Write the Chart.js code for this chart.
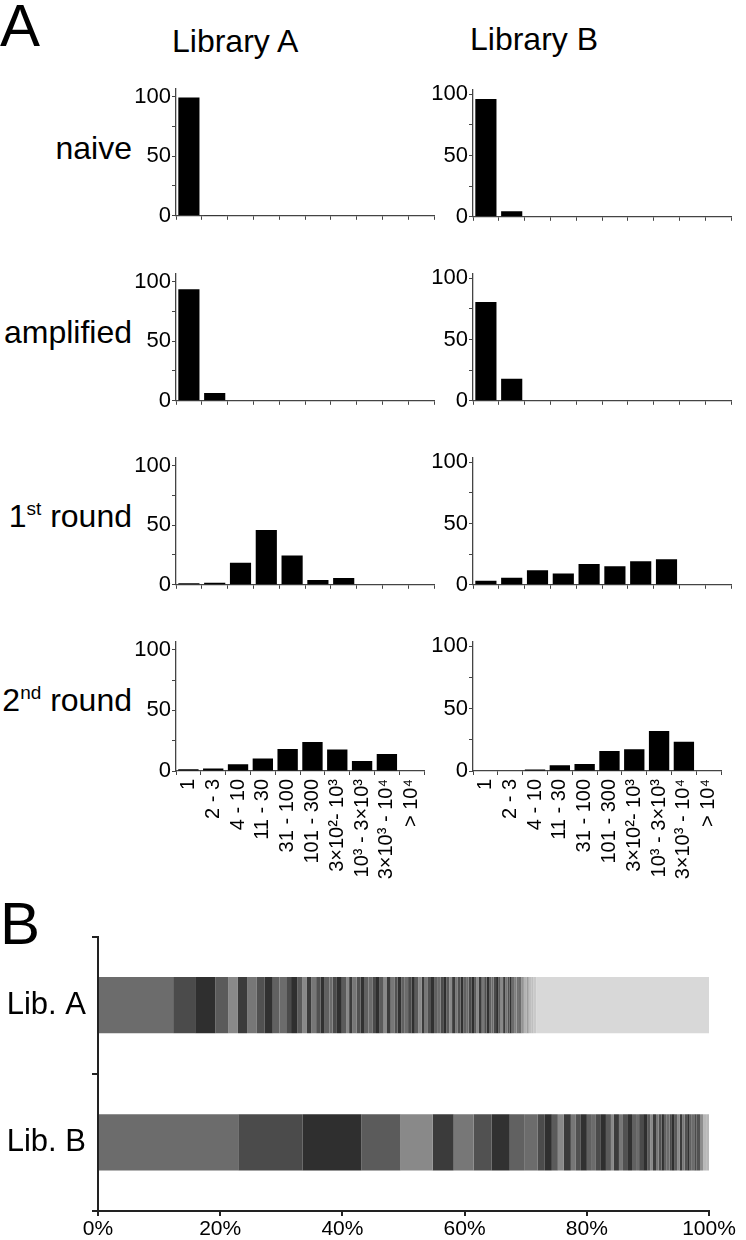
<!DOCTYPE html>
<html>
<head>
<meta charset="utf-8">
<script src="https://cdn.jsdelivr.net/npm/chart.js@4.4.0/dist/chart.umd.min.js"></script>
<style>
  body { margin: 0; background: #fff; width: 746px; height: 1240px; position: relative; overflow: hidden;
         font-family: "Liberation Sans", Arial, sans-serif; color: #000; }
  .lbl { position: absolute; white-space: nowrap; line-height: 1; }
  .row { right: 614px; text-align: right; font-size: 32px; }
  .row sup { font-size: 19px; vertical-align: 12px; line-height: 0; }
  canvas { position: absolute; }
</style>
</head>
<body>
<div class="lbl" style="left:0; top:-4px; font-size:60px;">A</div>
<div class="lbl" style="left:172px; top:25px; font-size:32px;">Library A</div>
<div class="lbl" style="left:470px; top:23px; font-size:32px;">Library B</div>
<div class="lbl row" style="top:132px;">naive</div>
<div class="lbl row" style="top:316px;">amplified</div>
<div class="lbl row" style="top:500px;">1<sup>st</sup> round</div>
<div class="lbl row" style="top:684px;">2<sup>nd</sup> round</div>
<div class="lbl" style="left:0; top:894px; font-size:60px;">B</div>

<canvas id="aNaive"></canvas>
<canvas id="bNaive"></canvas>
<canvas id="aAmp"></canvas>
<canvas id="bAmp"></canvas>
<canvas id="aR1"></canvas>
<canvas id="bR1"></canvas>
<canvas id="aR2"></canvas>
<canvas id="bR2"></canvas>
<canvas id="clones"></canvas>

<script>
// bins of clone frequency
const binLabels = ['1', '2 - 3', '4 - 10', '11 - 30', '31 - 100', '101 - 300',
                   '3×10²- 10³', '10³ - 3×10³', '3×10³ - 10⁴', '> 10⁴'];

// % of sequences per bin
const libANaive     = [99.3, 0.6, 0, 0, 0, 0, 0, 0, 0, 0];
const libBNaive     = [96, 4.6, 0, 0, 0, 0, 0, 0, 0, 0];
const libAAmplified = [93.5, 6.5, 0, 0, 0, 0, 0, 0, 0, 0];
const libBAmplified = [80.5, 18, 0, 0, 0, 0, 0, 0, 0, 0];
const libARound1    = [1.2, 1.8, 18.5, 46, 24.5, 4, 5.8, 0, 0, 0];
const libBRound1    = [3.3, 5.7, 11.9, 9.2, 16.9, 15.2, 19.2, 20.9, 0, 0];
const libARound2    = [1.5, 2, 5.5, 10.3, 18.2, 23.9, 17.7, 8.2, 14, 0];
const libBRound2    = [0.4, 0.4, 1.2, 4.7, 5.7, 16.1, 17.4, 32.1, 23.4, 0];

const yTicks = [0, 25, 50, 75, 100];

// panel B: share of each clone (%), largest first
const libAClones = [12.3, 3.6, 3.3, 2.1, 1.6, 1.5, 1.6, 1.3, 1.3, 1.1, 1.1, 0.8, 1.0, 0.8, 0.8, 0.7, 0.8, 0.7, 0.7, 0.8,
  0.5, 0.7, 0.8, 0.7, 0.5, 0.5, 0.7, 0.7,
  0.65, 0.6, 0.65, 0.6, 0.6, 0.65, 0.55, 0.6, 0.6, 0.55,
  0.6, 0.55, 0.55, 0.6, 0.5, 0.55, 0.55, 0.5, 0.55, 0.5,
  0.5, 0.5, 0.55, 0.45, 0.5, 0.5, 0.45, 0.5, 0.45, 0.45,
  0.45, 0.45, 0.4, 0.45, 0.45, 0.4, 0.4, 0.45, 0.4, 0.4,
  0.4, 0.4, 0.35, 0.4, 0.4, 0.35, 0.4, 0.35, 0.35, 0.35, 0.35];
const libAFade = [0.4, 0.4, 0.4, 0.4, 0.4, 0.4, 0.4, 0.4, 0.4, 0.4];
const libARest = 28.3;

const libBClones = [22.95, 10.5, 9.67, 6.4, 5.25, 3.44, 3.28, 2.95, 2.95, 2.46, 2.13, 1.15, 1.15, 0.98, 0.98, 1.15,
  0.82, 0.82, 0.98, 0.82, 0.66, 0.82, 0.82, 0.82, 0.49, 0.82, 0.66, 0.82, 0.66, 0.66, 0.5, 0.66, 0.66,
  0.5, 0.45, 0.5, 0.45, 0.45, 0.4, 0.45, 0.45, 0.4, 0.45, 0.4, 0.4, 0.45, 0.4, 0.4, 0.4, 0.35, 0.4, 0.4];
const libBFade = [0.55, 0.5, 0.5, 0.47];
const libBRest = 0;

Chart.defaults.font.family = '"Liberation Sans", Arial, sans-serif';
Chart.defaults.color = '#000';

const axisColor = '#444';
const greys = [0x6c, 0x4b, 0x2f, 0x5b, 0x89, 0x3b, 0x77, 0x51, 0x31, 0x61];
const restGrey = 0xd8;
const hex = g => { const h = Math.round(g).toString(16).padStart(2, '0'); return '#' + h + h + h; };

function place(id, left, top, w, h) {
  const c = document.getElementById(id);
  c.width = w; c.height = h;
  c.style.left = left + 'px'; c.style.top = top + 'px';
  return c;
}

// small histogram; zeroY = page y of the 0 line, axisX = page x of the y axis
function histogram(id, values, axisX, zeroY, yMax, showLabels) {
  const plotH = 138, plotW = 258, yW = 56, padT = 6, padR = 6;
  const xH = showLabels ? 150 : 12;
  const canvas = place(id, axisX - yW, zeroY - plotH - padT, yW + plotW + padR, padT + plotH + xH);
  new Chart(canvas, {
    type: 'bar',
    data: {
      labels: binLabels,
      datasets: [{ data: values, backgroundColor: '#000', barPercentage: 0.82, categoryPercentage: 1 }]
    },
    options: {
      animation: false,
      responsive: false,
      layout: { padding: { top: padT, right: padR, left: 0, bottom: 0 } },
      plugins: { legend: { display: false }, tooltip: { enabled: false } },
      scales: {
        x: {
          grid: { drawOnChartArea: false, tickLength: 4, color: axisColor, offset: true },
          border: { color: axisColor, width: 1.3 },
          ticks: { display: showLabels, autoSkip: false, minRotation: 90, maxRotation: 90, padding: 4, font: { size: 20 } },
          afterFit: s => { s.height = xH; }
        },
        y: {
          min: 0, max: yMax,
          afterBuildTicks: s => { s.ticks = yTicks.map(v => ({ value: v })); },
          grid: { drawOnChartArea: false, tickLength: 4, color: axisColor },
          border: { color: axisColor, width: 1.3 },
          ticks: { padding: 1, font: { size: 22 }, callback: v => (v % 50 === 0 ? v : '') },
          afterFit: s => { s.width = yW; }
        }
      }
    }
  });
}

histogram('aNaive', libANaive, 176, 218, 107, false);
histogram('bNaive', libBNaive, 473, 219, 104, false);
histogram('aAmp', libAAmplified, 176, 403, 107, false);
histogram('bAmp', libBAmplified, 473, 403, 104, false);
histogram('aR1', libARound1, 176, 587, 107, false);
histogram('bR1', libBRound1, 473, 587, 104, false);
histogram('aR2', libARound2, 176, 771, 107, true);
histogram('bR2', libBRound2, 473, 771, 104, true);

// build stacked segments with their grey shade
function segments(clones, fade, rest) {
  const out = clones.map((v, i) => ({ v, c: hex(greys[i % greys.length]) }));
  fade.forEach((v, k) => {
    const i = clones.length + k;
    const t = (k + 1) / (fade.length + 1);
    out.push({ v, c: hex(greys[i % greys.length] * (1 - t) + restGrey * t) });
  });
  if (rest > 0) out.push({ v: rest, c: hex(restGrey) });
  return out;
}

const segA = segments(libAClones, libAFade, libARest);
const segB = segments(libBClones, libBFade, libBRest);
const n = Math.max(segA.length, segB.length);
const stackSets = [];
for (let i = 0; i < n; i++) {
  stackSets.push({
    data: [segA[i] ? segA[i].v : null, segB[i] ? segB[i].v : null],
    backgroundColor: [segA[i] ? segA[i].c : '#fff', segB[i] ? segB[i].c : '#fff'],
    borderWidth: 0,
    barPercentage: 0.41,
    categoryPercentage: 1
  });
}

const bCanvas = place('clones', 0, 912, 746, 328);
new Chart(bCanvas, {
  type: 'bar',
  data: { labels: ['Lib. A', 'Lib. B'], datasets: stackSets },
  options: {
    indexAxis: 'y',
    animation: false,
    responsive: false,
    layout: { padding: { top: 9, right: 37, left: 0, bottom: 0 } },
    plugins: { legend: { display: false }, tooltip: { enabled: false } },
    scales: {
      x: {
        stacked: true, min: 0, max: 100,
        grid: { drawOnChartArea: false, tickLength: 5, color: '#222', lineWidth: 2 },
        border: { color: '#222', width: 2 },
        ticks: { stepSize: 20, padding: 1, font: { size: 21 }, callback: v => v + '%' },
        afterFit: s => { s.height = 29; }
      },
      y: {
        stacked: true,
        grid: { drawOnChartArea: false, tickLength: 6, color: '#222', lineWidth: 2, offset: true },
        border: { color: '#222', width: 2 },
        ticks: { padding: 6, font: { size: 31 } },
        afterFit: s => { s.width = 98; }
      }
    }
  }
});
</script>
</body>
</html>
